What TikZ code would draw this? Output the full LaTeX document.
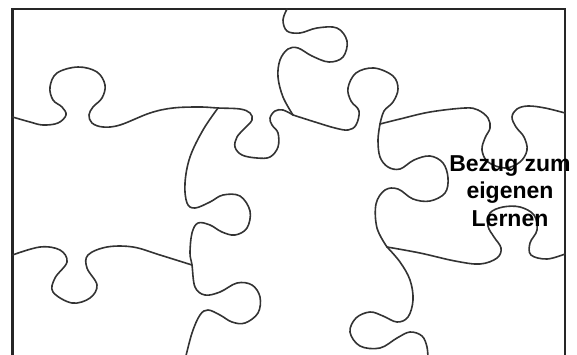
\documentclass[tikz,border=0pt]{standalone}
\usepackage{fontspec}
\newfontfamily\labelfont{Liberation Sans}
\usepackage{tikz}
\usetikzlibrary{positioning}

\begin{document}
\begin{tikzpicture}[
        x=1pt, y=-1pt,
        cut/.style={line width=1.6pt, draw=black!80, line join=round, line cap=round},
        frame/.style={line width=2.8pt, draw=black!85},
        lbl/.style={font=\labelfont\fontsize{23}{27.5}\selectfont\bfseries, align=center, inner sep=0pt},
    ]
    \useasboundingbox (0,0) rectangle (577,354);
    \clip (0,0) rectangle (577,354);

    % Frame (bottom edge runs off the page)
    \draw[frame] (12.5,370) -- (12.5,9) -- (565,9) -- (565,370);

    % Upper left edge, up to the first joint
    \draw[cut] plot[smooth, tension=0.6] coordinates {
        (12.5,117) (30,122) (43,125) (58,123) (66,115) (62,107) (53,100) (50,87) (57,73)
        (78,67) (97,72) (105,85) (102,98) (93,107) (89,115) (92,123) (103,127) (120,125)
        (150,113) (173,108) (200,107) (218,108) (240,109) (250,113) (252,120) (245,128)
        (237,137) (235,147) (242,155) (257,158) (270,157) (278,147) (278,133) (272,125)
        (270,118) (275,111) (283,110) (293,115)};

    % Edge from the top border down to the first joint
    \draw[cut] plot[smooth, tension=0.6] coordinates {
        (287,9) (283,20) (287,31) (300,33) (317,28) (337,28) (347,41) (343,57) (329,62)
        (312,56) (298,48) (288,49) (280,60) (278,77) (283,97) (293,115)};

    % First joint to second joint
    \draw[cut] plot[smooth, tension=0.6] coordinates {
        (293,115) (315,122) (335,128) (348,130) (356,125) (359,111) (351,101) (348,88)
        (356,73) (374,68) (393,76) (398,89) (393,102) (384,111) (380,124)};

    % Second joint to right border
    \draw[cut] plot[smooth, tension=0.6] coordinates {
        (380,124) (400,119) (430,112) (465,108) (478,110) (488,118) (490,128) (485,138)
        (482,150) (488,162) (505,168) (520,162) (527,150) (524,137) (516,127) (512,117)
        (517,109) (528,106) (545,108) (565,113)};

    % Second joint down to third joint
    \draw[cut] plot[smooth, tension=0.6] coordinates {
        (380,124) (378,140) (380,157) (388,167) (400,169) (414,160) (430,156) (443,163)
        (448,178) (445,193) (430,201) (413,199) (398,189) (385,190) (376,204) (377,228)
        (387,247)};

    % Third joint to right border
    \draw[cut] plot[smooth, tension=0.6] coordinates {
        (387,247) (420,253) (455,261) (480,264) (497,258) (501,248) (494,237) (488,226)
        (490,213) (503,207) (520,207) (534,215) (537,230) (530,243) (531,255) (547,259)
        (565,254)};

    % Third joint down to bottom
    \draw[cut] plot[smooth, tension=0.6] coordinates {
        (387,247) (400,262) (410,280) (413,300) (408,317) (397,322) (383,316) (370,312)
        (356,318) (350,332) (360,346) (380,348) (397,338) (410,332) (422,336) (427,347)
        (428,360)};

    % Left diagonal edge down to bottom
    \draw[cut] plot[smooth, tension=0.6] coordinates {
        (218,108) (203,130) (190,157) (185,183) (187,203) (195,208) (210,202) (223,195)
        (240,196) (250,211) (247,228) (235,235) (222,232) (210,225) (198,223) (192,233)
        (190,253) (192,265) (195,287) (205,295) (220,292) (237,283) (252,285) (260,297)
        (258,313) (245,323) (232,322) (220,315) (208,310) (200,315) (192,333) (185,360)};

    % Lower left edge
    \draw[cut] plot[smooth, tension=0.6] coordinates {
        (12.5,255) (40,247) (60,250) (67,262) (55,278) (53,292) (72,303) (90,298) (97,285)
        (87,268) (88,255) (107,247) (133,247) (160,255) (192,265)};

    % Label
    \node[lbl] (bezug) at (510,191) {Bezug zum\\eigenen\\Lernen};

\end{tikzpicture}
\end{document}
